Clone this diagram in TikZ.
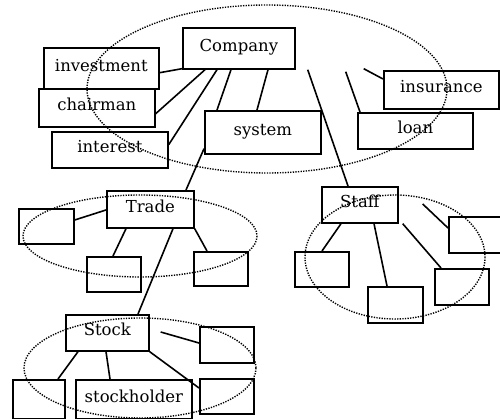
\documentclass[tikz,border=0pt]{standalone}
\usepackage{fontspec}
\setmainfont{DejaVu Serif}
\usetikzlibrary{calc}
\begin{document}
\begin{tikzpicture}[x=1pt,y=-1pt,
  box/.style={draw, line width=1.7pt, inner sep=0pt, anchor=north west,
    font=\fontsize{16.5}{18}\selectfont, text height=10pt, text depth=4pt},
  link/.style={line width=1.6pt},
  group/.style={line width=1.4pt, dash pattern=on 1.3pt off 1.3pt}]
\useasboundingbox (0,0) rectangle (500,419);
\fill[white] (0,0) rectangle (500,419);
\clip (0,0) rectangle (500,419);
% group ellipses
\draw[group] (267,89) ellipse [x radius=180, y radius=84];
\draw[group] (140,236) ellipse [x radius=117, y radius=41];
\draw[group] (140,368) ellipse [x radius=116, y radius=50];
\draw[group] (395,257) ellipse [x radius=90, y radius=62];
% top level
\node[box, minimum width=112pt, minimum height=41pt] (company) at (182,27) {Company};
\node[box, minimum width=115pt, minimum height=41pt] (investment) at (43,47) {investment};
\node[box, minimum width=116pt, minimum height=38pt] (chairman) at (38,88) {chairman};
\node[box, minimum width=116pt, minimum height=36pt] (interest) at (51,131) {interest};
\node[box, minimum width=116pt, minimum height=43pt] (system) at (204,110) {system};
\node[box, minimum width=115pt, minimum height=38pt] (insurance) at (383,70) {insurance};
\node[box, minimum width=115pt, minimum height=36pt] (loan) at (357,112) {loan};
% trade
\node[box, minimum width=87pt, minimum height=37pt] (trade) at (106,190) {Trade};
\node[box, minimum width=55pt, minimum height=35pt] (t1) at (18,208) {};
\node[box, minimum width=54pt, minimum height=35pt] (t2) at (86,256) {};
\node[box, minimum width=54pt, minimum height=34pt] (t3) at (193,251) {};
% stock
\node[box, minimum width=83pt, minimum height=36pt] (stock) at (65,314) {Stock};
\node[box, minimum width=54pt, minimum height=36pt] (s1) at (199,326) {};
\node[box, minimum width=52pt, minimum height=39pt] (s2) at (12,379) {};
\node[box, minimum width=116pt, minimum height=39pt] (stockholder) at (75,379) {stockholder};
\node[box, minimum width=54pt, minimum height=35pt] (s3) at (199,378) {};
% staff
\node[box, minimum width=76pt, minimum height=36pt] (staff) at (321,186) {Staff};
\node[box, minimum width=54pt, minimum height=35pt] (f1) at (294,251) {};
\node[box, minimum width=55pt, minimum height=36pt] (f2) at (367,286) {};
\node[box, minimum width=54pt, minimum height=36pt] (f3) at (434,268) {};
\node[box, minimum width=62pt, minimum height=36pt] (f4) at (448,216) {};
% connectors: company
\draw[link] ($(investment.south east)+(0,-17)$) -- ($(company.south west)+(0,-1)$);
\draw[link] ($(chairman.south east)+(0,-14)$) -- ($(company.south west)+(23,0)$);
\draw[link] ($(interest.south east)+(0,-24)$) -- ($(company.south west)+(35,0)$);
\draw[link] ($(system.north west)+(13,0)$) -- ($(company.south west)+(49,0)$);
\draw[link] ($(system.north west)+(53,0)$) -- ($(company.south west)+(86,0)$);
\draw[link] ($(company.south east)+(12,0)$) -- ($(staff.north west)+(27,0)$);
\draw[link] ($(company.south east)+(50,2)$) -- ($(loan.north west)+(3,0)$);
\draw[link] ($(company.south east)+(68,-1)$) -- ($(insurance.north west)+(0,9)$);
\draw[link] ($(system.south west)+(0,-6)$) -- ($(trade.north west)+(80,0)$);
% trade
\draw[link] ($(t1.north east)+(0,12)$) -- ($(trade.north west)+(0,20)$);
\draw[link] ($(t2.north west)+(27,0)$) -- ($(trade.south west)+(20,0)$);
\draw[link] ($(t3.north west)+(14,0)$) -- (trade.south east);
\draw[link] ($(trade.south west)+(67,0)$) -- ($(stock.north west)+(73,0)$);
% stock
\draw[link] ($(stock.north east)+(11,18)$) -- ($(s1.north west)+(0,17)$);
\draw[link] ($(s2.north west)+(46,0)$) -- ($(stock.south west)+(13,0)$);
\draw[link] ($(stockholder.north west)+(35,0)$) -- ($(stock.south west)+(41,0)$);
\draw[link] (stock.south east) -- ($(s3.north west)+(0,10)$);
% staff
\draw[link] ($(f1.north west)+(28,0)$) -- ($(staff.south west)+(20,0)$);
\draw[link] ($(f2.north west)+(20,0)$) -- ($(staff.south west)+(53,0)$);
\draw[link] ($(f3.north west)+(7,0)$) -- ($(staff.south east)+(4,0)$);
\draw[link] ($(f4.north west)+(0,12)$) -- ($(staff.north east)+(24,18)$);
\end{tikzpicture}
\end{document}
